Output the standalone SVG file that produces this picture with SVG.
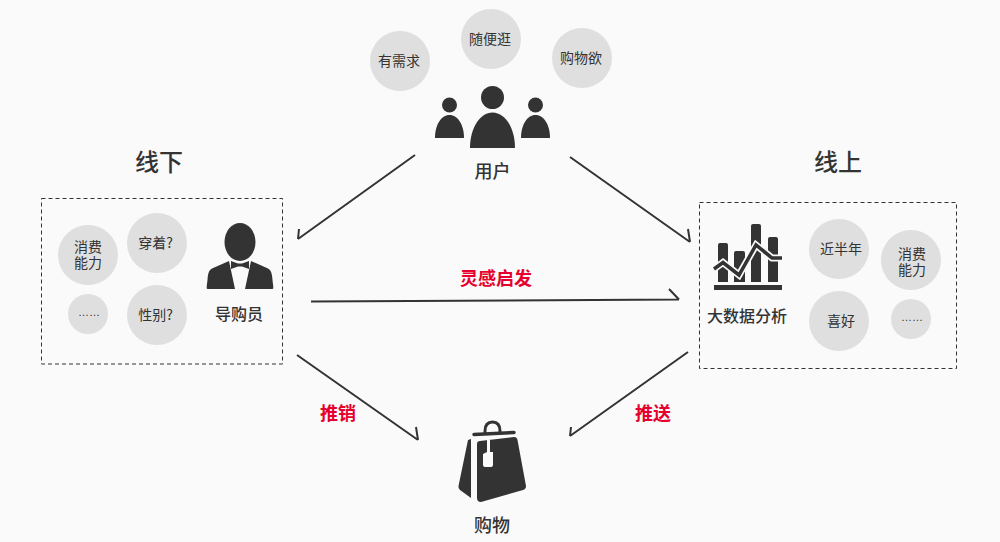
<svg xmlns="http://www.w3.org/2000/svg" width="1000" height="542" viewBox="0 0 1000 542">
<style>
text{font-family:"Noto Sans CJK SC","Noto Sans",sans-serif;fill:#333;text-anchor:middle}
.c{fill:#dfdfdf}
.s{font-size:14px}
.d{font-size:11px;font-family:"Liberation Sans",sans-serif}
.l{font-size:16px;font-weight:500}
.m{font-size:18px;font-weight:500}
.h{font-size:24px;font-weight:500}
.r{font-size:18px;font-weight:700;fill:#e5002d}
.i{fill:#333}
.w{fill:#fafafa}
.box{fill:none;stroke:#333;stroke-width:1;stroke-dasharray:4 3}
.a{fill:none;stroke:#333;stroke-width:2}
</style>
<rect width="1000" height="542" fill="#fafafa"/>
<g id="connectors">
<path class="a" d="M415 155L298 239M299 229L298 239"/>
<path class="a" d="M570 157L690 242M688 229L690 242"/>
<path class="a" d="M311 301.500L679 299.500M669 289L679 299.500"/>
<path class="a" d="M297 355L418 440M416 427L418 440"/>
<path class="a" d="M688 352L570 436M571 427L570 436"/>
</g>
<g id="users">
<circle class="c" cx="400" cy="61" r="30"/><text class="s" x="399" y="66">有需求</text>
<circle class="c" cx="491" cy="39" r="30"/><text class="s" x="490" y="44">随便逛</text>
<circle class="c" cx="582" cy="58" r="30"/><text class="s" x="581" y="63">购物欲</text>
<circle class="i" cx="492.500" cy="97.500" r="11.500"/>
<path class="i" d="M470 148C470 128 480 112.500 492.500 112.500C505 112.500 515 128 515 148Z"/>
<circle class="i" cx="449.500" cy="105" r="7.500"/>
<path class="i" d="M435 138C435 125 441 115 449.500 115C458 115 464 125 464 138Z"/>
<circle class="i" cx="535.500" cy="105" r="7.500"/>
<path class="i" d="M521 138C521 125 527 115 535.500 115C544 115 550 125 550 138Z"/>
<text class="m" x="492.500" y="178">用户</text>
</g>
<g id="offline">
<text class="h" x="159" y="171">线下</text>
<rect class="box" x="41.500" y="198.500" width="241" height="165.500"/>
<circle class="c" cx="88" cy="255" r="30"/><text class="s"><tspan x="88" y="252">消费</tspan><tspan x="88" y="268">能力</tspan></text>
<circle class="c" cx="157" cy="243" r="30"/><text class="s" x="155.500" y="248">穿着?</text>
<circle class="c" cx="88" cy="314" r="20"/><text class="d" x="89" y="316">……</text>
<circle class="c" cx="157" cy="315" r="30"/><text class="s" x="155.500" y="320">性别?</text>
<ellipse class="i" cx="240" cy="242" rx="15.500" ry="19"/>
<path class="i" d="M229 261L235 289H207.500C206 289 207 285 207.500 280C208 273 209 270 212 268.500Z"/>
<path class="i" d="M251 261L245 289H272.500C274 289 273 285 272.500 280C272 273 271 270 268 268.500Z"/>
<path class="i" d="M231 261L238 263.500H242L249 261V269L242 266.500H238L231 269Z"/>
<text class="l" x="239" y="320">导购员</text>
</g>
<g id="online">
<text class="h" x="838" y="171">线上</text>
<rect class="box" x="699.500" y="202.500" width="257" height="166"/>
<path class="i" d="M718 245a2 2 0 0 1 2-2h6a2 2 0 0 1 2 2v37h-10ZM734 253a2 2 0 0 1 2-2h7a2 2 0 0 1 2 2v29h-11ZM751 226a2 2 0 0 1 2-2h6a2 2 0 0 1 2 2v56h-10ZM768 239a2 2 0 0 1 2-2h6a2 2 0 0 1 2 2v43h-10ZM714 285h68v5h-68Z"/>
<path fill="none" stroke="#fafafa" stroke-width="7" d="M714 269L723 262.500L739 275L756 245L772 258H782"/>
<path fill="none" stroke="#333" stroke-width="3.500" d="M714 269L723 262.500L739 275L756 245L772 258H782"/>
<text class="l" x="747" y="322">大数据分析</text>
<circle class="c" cx="839" cy="249" r="30"/><text class="s" x="841" y="254">近半年</text>
<circle class="c" cx="911" cy="260" r="30"/><text class="s"><tspan x="912" y="259">消费</tspan><tspan x="912" y="275">能力</tspan></text>
<circle class="c" cx="839" cy="321" r="30"/><text class="s" x="841" y="326">喜好</text>
<circle class="c" cx="911" cy="319" r="20"/><text class="d" x="912" y="321">……</text>
</g>
<g id="labels">
<text class="r" x="496" y="285">灵感启发</text>
<text class="r" x="338" y="420">推销</text>
<text class="r" x="653" y="420">推送</text>
</g>
<g id="shopping">
<path fill="none" stroke="#333" stroke-width="3" d="M485 433V431C485 424 488 422 492.500 422C497 422 500 424 500 431V433"/>
<path fill="none" stroke="#333" stroke-width="3.500" stroke-linecap="round" d="M474 434.500L514 432.500"/>
<path class="i" d="M468 440L471 439V498L460 490Q458 488 458.500 486Z"/>
<path class="i" d="M477 444Q477 441 480 441L514 437Q517 437 517.500 440L526 486Q526 489 523 490L481 502Q477 502 477 498Z"/>
<path class="w" d="M487 440H490V452H493V465Q493 467 491 467H485Q483 467 483 465V454L487 452Z"/>
<text class="m" x="492" y="532">购物</text>
</g>
</svg>
